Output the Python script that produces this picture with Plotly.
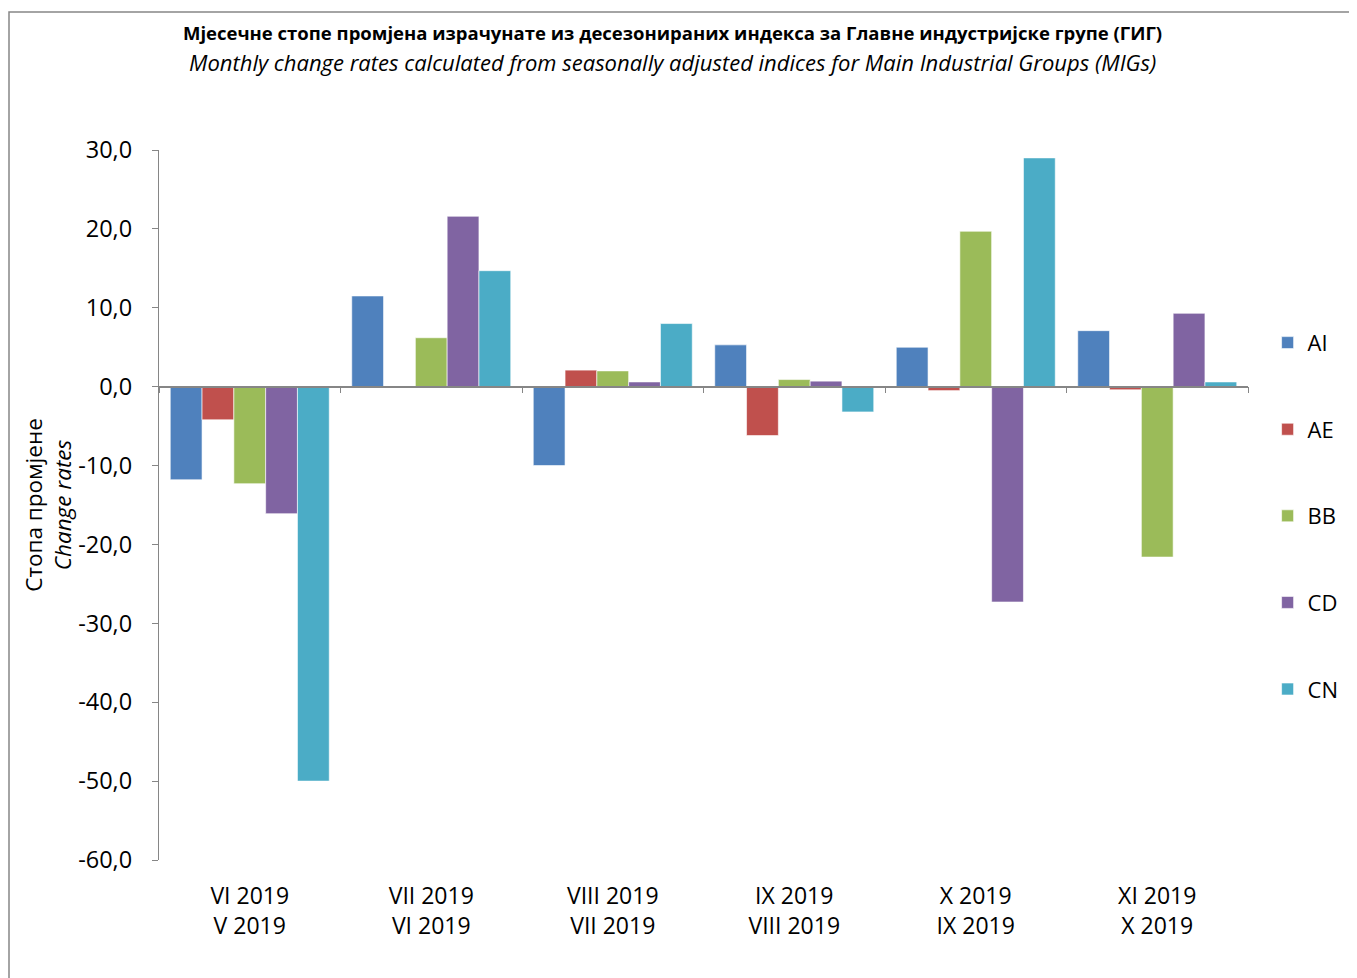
import plotly.graph_objects as go

categories = ["VI 2019<br>V 2019", "VII 2019<br>VI 2019", "VIII 2019<br>VII 2019",
              "IX 2019<br>VIII 2019", "X 2019<br>IX 2019", "XI 2019<br>X 2019"]
series_names = ["AI", "AE", "BB", "CD", "CN"]
ai = [-11.8, 11.5, -10.0, 5.3, 5.0, 7.1]
ae = [-4.2, 0.0, 2.1, -6.2, -0.5, -0.4]
bb = [-12.3, 6.2, 2.0, 0.9, 19.7, -21.6]
cd = [-16.1, 21.6, 0.6, 0.7, -27.3, 9.3]
cn = [-50.0, 14.7, 8.0, -3.2, 29.0, 0.6]
y_tick_vals = [30, 20, 10, 0, -10, -20, -30, -40, -50, -60]
y_tick_text = ["30,0", "20,0", "10,0", "0,0", "-10,0", "-20,0", "-30,0", "-40,0", "-50,0", "-60,0"]
colors = ["#4F81BD", "#C0504D", "#9BBB59", "#8064A2", "#4BACC6"]
title_main = "Мјесечне стопе промјена израчунате из десезонираних индекса за Главне индустријске групе (ГИГ)"
title_sub = "Monthly change rates calculated from seasonally adjusted indices for Main Industrial Groups (MIGs)"

FONT = "Open Sans"
AXIS_COLOR = "#868686"
Y_MIN, Y_MAX = -60, 30
L, R, T, B = 151, 117, 142, 126   # page body has an 8px offset
PW, PH = 1357 - L - R, 978 - T - B

fig = go.Figure()
for name, vals, col in zip(series_names, [ai, ae, bb, cd, cn], colors):
    fig.add_trace(go.Bar(
        x=categories, y=vals, name=name, legendgroup=name,
        marker=dict(color=col, line=dict(color="rgba(255,255,255,0.6)", width=1)),
    ))

zero_pos = (0 - Y_MIN) / (Y_MAX - Y_MIN)

fig.update_layout(
    width=1357, height=978,
    margin=dict(l=L, r=R, t=T, b=B, autoexpand=False),
    paper_bgcolor="white", plot_bgcolor="white",
    barmode="group", bargap=0.124, bargroupgap=0,
    font=dict(family=FONT, color="black", size=22),
    xaxis=dict(
        showline=False, ticks="", showgrid=False, zeroline=False, automargin=False,
        tickfont=dict(size=23), ticklabelstandoff=20,
    ),
    xaxis2=dict(
        overlaying="x", anchor="free", position=zero_pos, side="bottom",
        type="linear", range=[-0.5, 5.5], automargin=False,
        tickvals=[-0.5, 0.5, 1.5, 2.5, 3.5, 4.5, 5.5],
        showticklabels=False, ticks="outside", ticklen=6, tickcolor=AXIS_COLOR,
        tickwidth=1.3, showline=True, linecolor=AXIS_COLOR, linewidth=1.5,
        showgrid=False, zeroline=False,
    ),
    yaxis=dict(
        range=[Y_MIN, Y_MAX], tickvals=y_tick_vals, ticktext=y_tick_text,
        showline=True, linecolor=AXIS_COLOR, linewidth=1.3, automargin=False,
        ticks="outside", ticklen=6, tickcolor=AXIS_COLOR, tickwidth=1.3,
        showgrid=False, zeroline=False, tickfont=dict(size=23.5), ticklabelstandoff=15,
        title=dict(text="Стопа промјене<br><i>Change rates</i>", font=dict(size=22.5), standoff=0),
    ),
    legend=dict(
        x=1.018, xanchor="left", y=0.758, yanchor="top",
        font=dict(size=22), tracegroupgap=55, itemwidth=30,
        bgcolor="rgba(0,0,0,0)",
    ),
    showlegend=True,
)

# title lines
fig.add_annotation(text="<b>" + title_main + "</b>", xref="paper", yref="paper",
                   x=(664 - L) / PW, y=1 + (T - 24) / PH, xanchor="center", yanchor="middle",
                   showarrow=False, font=dict(size=18.5))
fig.add_annotation(text="<i>" + title_sub + "</i>", xref="paper", yref="paper",
                   x=(664 - L) / PW, y=1 + (T - 54) / PH, xanchor="center", yanchor="middle",
                   showarrow=False, font=dict(size=22))

# invisible trace to activate xaxis2
fig.add_trace(go.Scatter(x=[-0.5, 5.5], y=[0, 0], xaxis="x2", yaxis="y",
                         mode="lines", line=dict(width=0), hoverinfo="skip",
                         showlegend=False))

# chart border frame
fig.add_shape(type="rect", xref="paper", yref="paper",
              x0=-(L - 1) / PW, x1=1.5, y0=-0.5, y1=1 + (T - 4) / PH,
              line=dict(color=AXIS_COLOR, width=1.5), fillcolor="rgba(0,0,0,0)", layer="below")

fig.write_html("out.html")
